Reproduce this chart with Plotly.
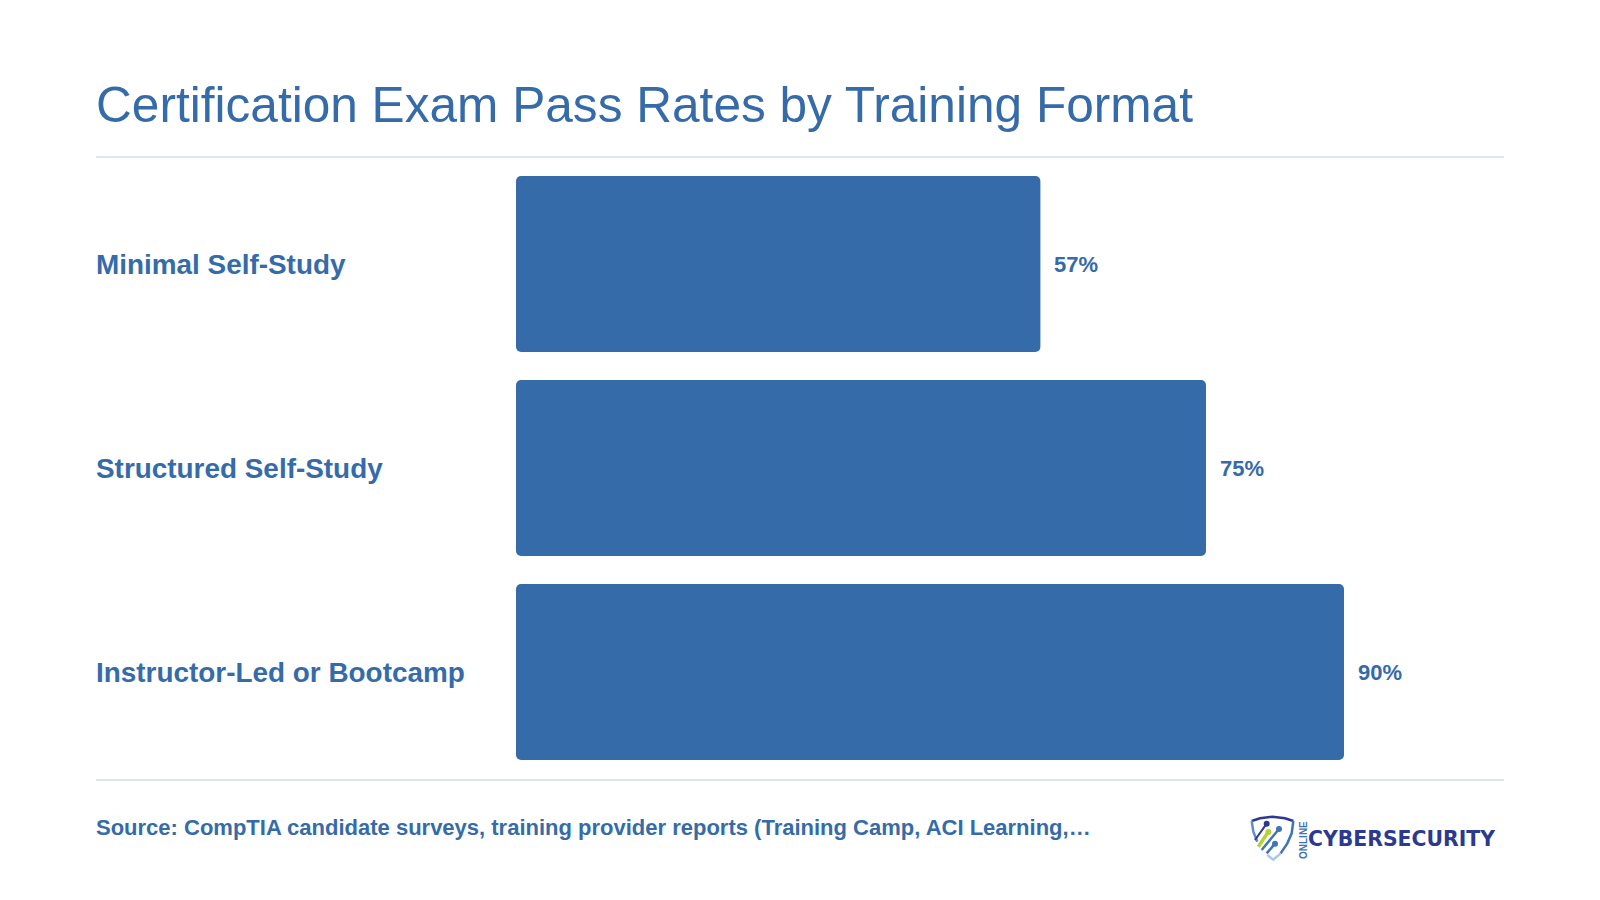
import plotly.graph_objects as go

categories = ["Minimal Self-Study", "Structured Self-Study", "Instructor-Led or Bootcamp"]
values = [57, 75, 90]
value_labels = ["57%", "75%", "90%"]
title_text = "Certification Exam Pass Rates by Training Format"
source_text = "Source: CompTIA candidate surveys, training provider reports (Training Camp, ACI Learning,…"

W, H = 1600, 900
BLUE = "#366BA9"
RULE = "#DDE5F0"
FONT = "Liberation Sans"
L, R, T, B = 516, 1436, 162, 774
BAR_WIDTH = 176 / 204


def px(x):
    return (x - L) / (R - L)


def py(y):
    return (B - y) / (B - T)


def z(x, y):
    return f"{px(1210 + x / 3):.5f} {py(785 + y / 3):.5f}"


def stroke(points, color, width):
    d = "M " + " L ".join(z(*p) for p in points)
    return dict(type="path", xref="paper", yref="paper", path=d, line=dict(color=color, width=width))


def label(x, y, text, size, color=BLUE, family=FONT, weight="normal", **kw):
    return dict(x=px(x), y=py(y), xref="paper", yref="paper", text=text, showarrow=False, xanchor="left",
                yanchor="middle", font=dict(family=family, size=size, color=color, weight=weight), **kw)


fig = go.Figure()
# Two overlapping bars per category so that both ends get rounded corners.
fig.add_bar(y=categories, x=[v - 20 for v in values], base=[20] * 3, orientation="h",
            marker=dict(color=BLUE, line_width=0, cornerradius=5), width=BAR_WIDTH, hoverinfo="skip")
fig.add_bar(y=categories, x=[-30] * 3, base=[30] * 3, orientation="h",
            marker=dict(color=BLUE, line_width=0, cornerradius=5), width=BAR_WIDTH, hoverinfo="skip")

annotations = []
for c, v, t in zip(categories, values, value_labels):
    annotations.append(dict(x=v, y=c, xref="x", yref="y", text=t, showarrow=False, xanchor="left",
                            yanchor="middle", xshift=12,
                            font=dict(family=FONT, size=22, color=BLUE, weight="bold")))
    annotations.append(dict(x=px(94), y=c, xref="paper", yref="y", text=c, showarrow=False, xanchor="left",
                            yanchor="middle", font=dict(family=FONT, size=27.9, color=BLUE, weight="bold")))
annotations += [
    label(94, 105, title_text, 49.6),
    label(94, 827, source_text, 22, weight="bold"),
    label(1306, 839, "CYBERSECURITY", 20.4, color="#2B3990", family="DejaVu Sans", weight="bold"),
    dict(x=px(1303), y=py(840), xref="paper", yref="paper", text="ONLINE", showarrow=False, textangle=-90,
         xanchor="center", yanchor="middle",
         font=dict(family=FONT, size=10, color="#3F74B8", weight="bold")),
]

shapes = [
    dict(type="line", xref="paper", yref="paper", x0=px(96), x1=px(1504), y0=py(157), y1=py(157),
         line=dict(color=RULE, width=2)),
    dict(type="line", xref="paper", yref="paper", x0=px(96), x1=px(1504), y0=py(780), y1=py(780),
         line=dict(color=RULE, width=2)),
    stroke([(125, 108), (150, 100), (188, 95), (225, 100), (250, 108)], "#2B3990", 2.5),
    stroke([(125, 108), (130, 140), (142, 170)], "#5C8FCF", 2.5),
    stroke([(250, 108), (245, 145), (232, 175), (212, 205)], "#3F74B8", 2.5),
    stroke([(212, 205), (190, 224), (172, 210)], "#A9C8EA", 2.5),
    stroke([(170, 116), (135, 165)], "#2B3990", 2),
    stroke([(175, 140), (145, 185)], "#B5D334", 3.5),
    stroke([(207, 132), (155, 195)], "#3F74B8", 2.5),
    stroke([(195, 176), (170, 205)], "#3F74B8", 2.5),
]
for (x, y, col) in [(170, 116, "#2B3990"), (175, 141, "#B5D334"), (207, 132, "#3F74B8"), (195, 176, "#3F74B8")]:
    shapes.append(dict(type="circle", xref="paper", yref="paper",
                       x0=px(1210 + x / 3 - 3), x1=px(1210 + x / 3 + 3),
                       y0=py(785 + y / 3 - 3), y1=py(785 + y / 3 + 3),
                       fillcolor=col, line_width=0))

fig.update_layout(
    width=W, height=H, autosize=False,
    margin=dict(l=L, r=W - R, t=T, b=H - B, pad=0),
    paper_bgcolor="white", plot_bgcolor="white",
    barmode="overlay", showlegend=False,
    xaxis=dict(range=[0, 100], visible=False, fixedrange=True),
    yaxis=dict(autorange=False, range=[2.5, -0.5], type="category", categoryorder="array",
               categoryarray=categories, visible=False, fixedrange=True),
    annotations=annotations, shapes=shapes,
)

fig.write_html("out.html", config={"displayModeBar": False},
               post_script="document.body.style.margin='0';")
